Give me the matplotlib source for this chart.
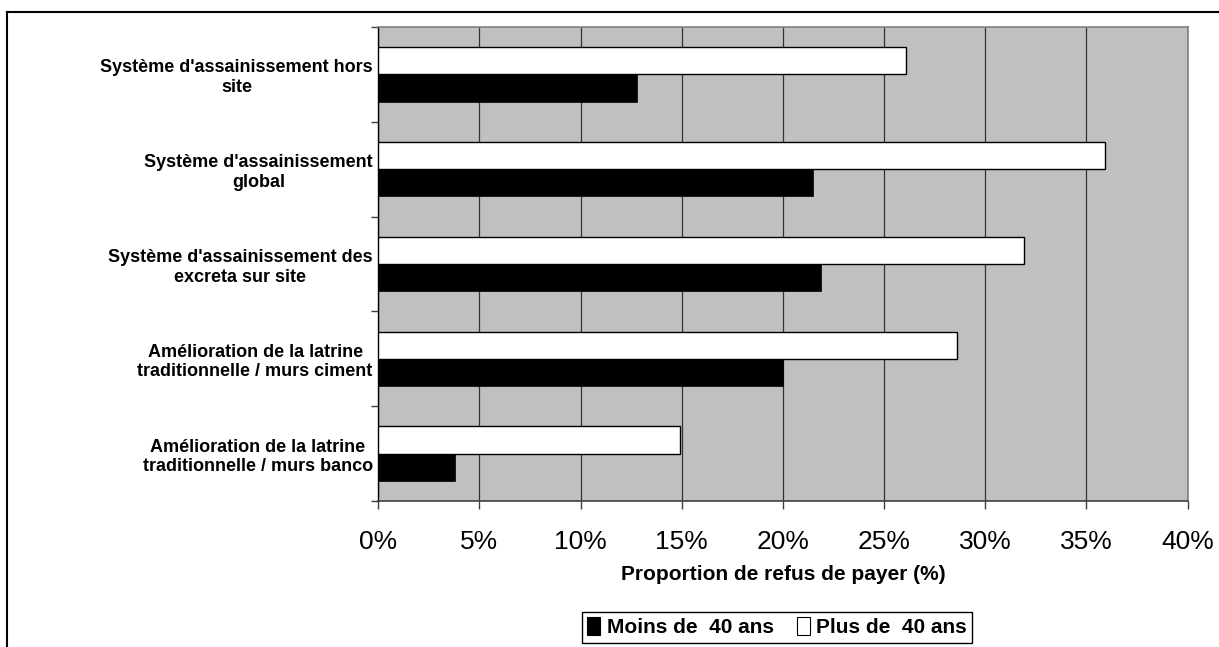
import numpy as np
import matplotlib
matplotlib.use('Agg')
import matplotlib.pyplot as plt
from matplotlib.lines import Line2D
from matplotlib.patches import Patch

plt.rcParams['font.family'] = ['Liberation Sans', 'DejaVu Sans']

# categories, top to bottom
categories = [
    "Système d'assainissement hors\nsite",
    "Système d'assainissement\nglobal",
    "Système d'assainissement des\nexcreta sur site",
    "Amélioration de la latrine\ntraditionnelle / murs ciment",
    "Amélioration de la latrine\ntraditionnelle / murs banco",
]
moins_40 = [12.8, 21.5, 21.9, 20.0, 3.8]
plus_40 = [26.1, 35.9, 31.9, 28.6, 14.9]
xticks = [0, 5, 10, 15, 20, 25, 30, 35, 40]

fig = plt.figure(figsize=(12.19, 6.47), dpi=100)
ax = fig.add_axes([0.3103, 0.2257, 0.6640, 0.7326])
ax.set_facecolor('#C0C0C0')

y = np.arange(len(categories))
h = 0.287
ax.barh(y - h / 2, plus_40, height=h, color='white', edgecolor='black', linewidth=1.0, zorder=3)
ax.barh(y + h / 2, moins_40, height=h, color='black', edgecolor='black', linewidth=0.5, zorder=3)

ax.set_xlim(0, 40)
ax.set_ylim(len(categories) - 0.5, -0.5)

ax.set_xticks(xticks)
ax.set_xticklabels([f'{t}%' for t in xticks], fontsize=19)
ax.tick_params(axis='x', direction='out', length=6, width=1, pad=15, color='#404040')
ax.xaxis.grid(True, color='#333333', linewidth=0.9, zorder=1)
ax.set_axisbelow(True)

# tick marks sit on the category boundaries, labels at the centres
ax.set_yticks(np.arange(-0.5, len(categories), 1.0))
ax.set_yticklabels([])
ax.set_yticks(y, minor=True)
ax.set_yticklabels(categories, minor=True, fontsize=13, fontweight='bold',
                   multialignment='center')
ax.tick_params(axis='y', which='major', direction='out', length=5, width=1, color='#404040')
ax.tick_params(axis='y', which='minor', length=0, pad=4)

ax.set_xlabel('Proportion de refus de payer (%)', fontsize=15, fontweight='bold', labelpad=8)

for side in ['top', 'right']:
    ax.spines[side].set_color('#808080')
    ax.spines[side].set_linewidth(1.2)
ax.spines['bottom'].set_color('#404040')
ax.spines['bottom'].set_linewidth(1.2)
ax.spines['left'].set_color('black')
ax.spines['left'].set_linewidth(1.0)

handles = [Patch(facecolor='black', edgecolor='black', linewidth=0.8),
           Patch(facecolor='white', edgecolor='black', linewidth=0.8)]
leg = fig.legend(handles, ['Moins de  40 ans', 'Plus de  40 ans'], ncol=2,
                 loc='center', bbox_to_anchor=(0.6374, 0.0303),
                 prop={'size': 15, 'weight': 'bold'}, fancybox=False,
                 edgecolor='black', framealpha=1, borderpad=0.25,
                 handlelength=0.65, handleheight=0.9, handletextpad=0.3,
                 columnspacing=1.1, borderaxespad=0)
leg.get_frame().set_linewidth(1.0)

# outer chart frame (left and top edges fall inside the image)
fig.add_artist(Line2D([0.006, 0.006], [0.9819, -0.1], color='black', linewidth=1.5,
                      transform=fig.transFigure))
fig.add_artist(Line2D([0.006, 1.1], [0.9819, 0.9819], color='black', linewidth=1.5,
                      transform=fig.transFigure))

fig.savefig('out.png', dpi=100)
